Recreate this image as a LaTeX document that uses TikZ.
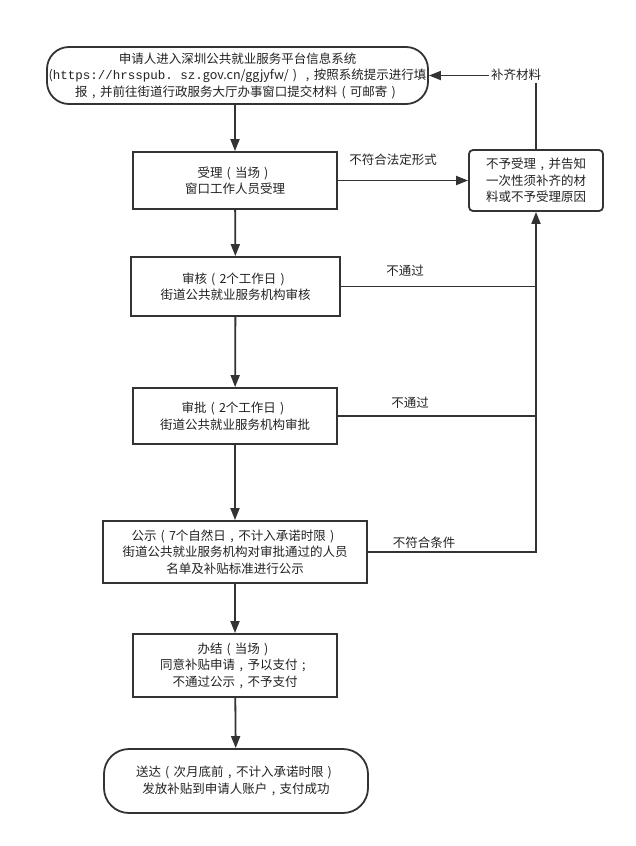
\documentclass[tikz,border=0pt]{standalone}
\usepackage{fontspec}
\setmainfont{Noto Sans CJK SC}
\setmonofont{Liberation Mono}
\usetikzlibrary{arrows.meta}
\definecolor{ln}{HTML}{333333}
\definecolor{tx}{HTML}{222222}
\newcommand{\lpar}{\makebox[1em]{(}}
\newcommand{\rpar}{\makebox[1em]{)}}
\newcommand{\fcomma}{\makebox[1em]{,}}
\tikzset{
  box/.style={draw=ln, line width=1.8pt, fill=white, align=center, text=tx, font=\fontsize{12.5}{16.5}\selectfont, inner sep=0pt},
  rbox/.style={box, rounded corners=22pt},
  lbl/.style={text=tx, font=\fontsize{12.5}{16}\selectfont, inner sep=1pt},
  con/.style={draw=ln, line width=1.8pt},
  arr/.style={con, -{Triangle[length=12pt,width=9pt]}},
}
\begin{document}
\begin{tikzpicture}[x=1pt,y=-1pt]
\useasboundingbox (0,0) rectangle (635,846);
\node[rbox, minimum width=381pt, minimum height=57pt] (top) at (237.5,75.5)
  {申请人进入深圳公共就业服务平台信息系统\\({\ttfamily https://hrsspub. sz.}gov.cn/ggjyfw/\rpar\fcomma 按照系统提示进行填\\报\fcomma 并前往街道行政服务大厅办事窗口提交材料\lpar 可邮寄\rpar};
\node[box, minimum width=204pt, minimum height=57pt] (shouli) at (235,180.5)
  {受理\lpar 当场\rpar\\窗口工作人员受理};
\node[box, minimum width=209pt, minimum height=59pt] (shenhe) at (235.5,286.5)
  {审核\lpar 2个工作日\rpar\\街道公共就业服务机构审核};
\node[box, minimum width=204pt, minimum height=56pt] (shenpi) at (235,416)
  {审批\lpar 2个工作日\rpar\\街道公共就业服务机构审批};
\node[box, minimum width=264pt, minimum height=62pt] (gongshi) at (235,552)
  {公示\lpar 7个自然日\fcomma 不计入承诺时限\rpar\\街道公共就业服务机构对审批通过的人员\\名单及补贴标准进行公示};
\node[box, minimum width=204pt, minimum height=63pt] (banjie) at (235,665.5)
  {办结\lpar 当场\rpar\\同意补贴申请\fcomma 予以支付\makebox[1em]{;}\\不通过公示\fcomma 不予支付};
\node[box, rounded corners=25pt, minimum width=264pt, minimum height=64pt] (songda) at (236,781)
  {送达\lpar 次月底前\fcomma 不计入承诺时限\rpar\\发放补贴到申请人账户\fcomma 支付成功};
\node[box, rounded corners=4pt, minimum width=134pt, minimum height=61pt] (right) at (536,180.5)
  {不予受理\fcomma 并告知\\一次性须补齐的材\\料或不予受理原因};

\draw[arr] (top.south -| shouli.north) -- (shouli.north);
\draw[arr] (shouli) -- (shenhe);
\draw[arr] (shenhe) -- (shenpi);
\draw[arr] (shenpi) -- (gongshi);
\draw[arr] (gongshi) -- (banjie);
\draw[arr] (banjie) -- (songda);

\draw[arr] (shouli.east) -- (right.west);
\node[lbl] (l1) at (393,160) {不符合法定形式};

\draw[con] (shenhe.east) -- (shenhe.east -| right.south);
\node[lbl] (l2) at (405,271) {不通过};
\draw[con] (shenpi.east) -- (shenpi.east -| right.south);
\node[lbl] (l3) at (410,403) {不通过};
\node[lbl] (l4) at (424,543) {不符合条件};
\draw[arr] (gongshi.east) -| (right.south);

\draw[arr] (right.north) |- (top.east);
\node[lbl, fill=white, inner sep=2pt] (l5) at (516,75) {补齐材料};
\end{tikzpicture}
\end{document}
